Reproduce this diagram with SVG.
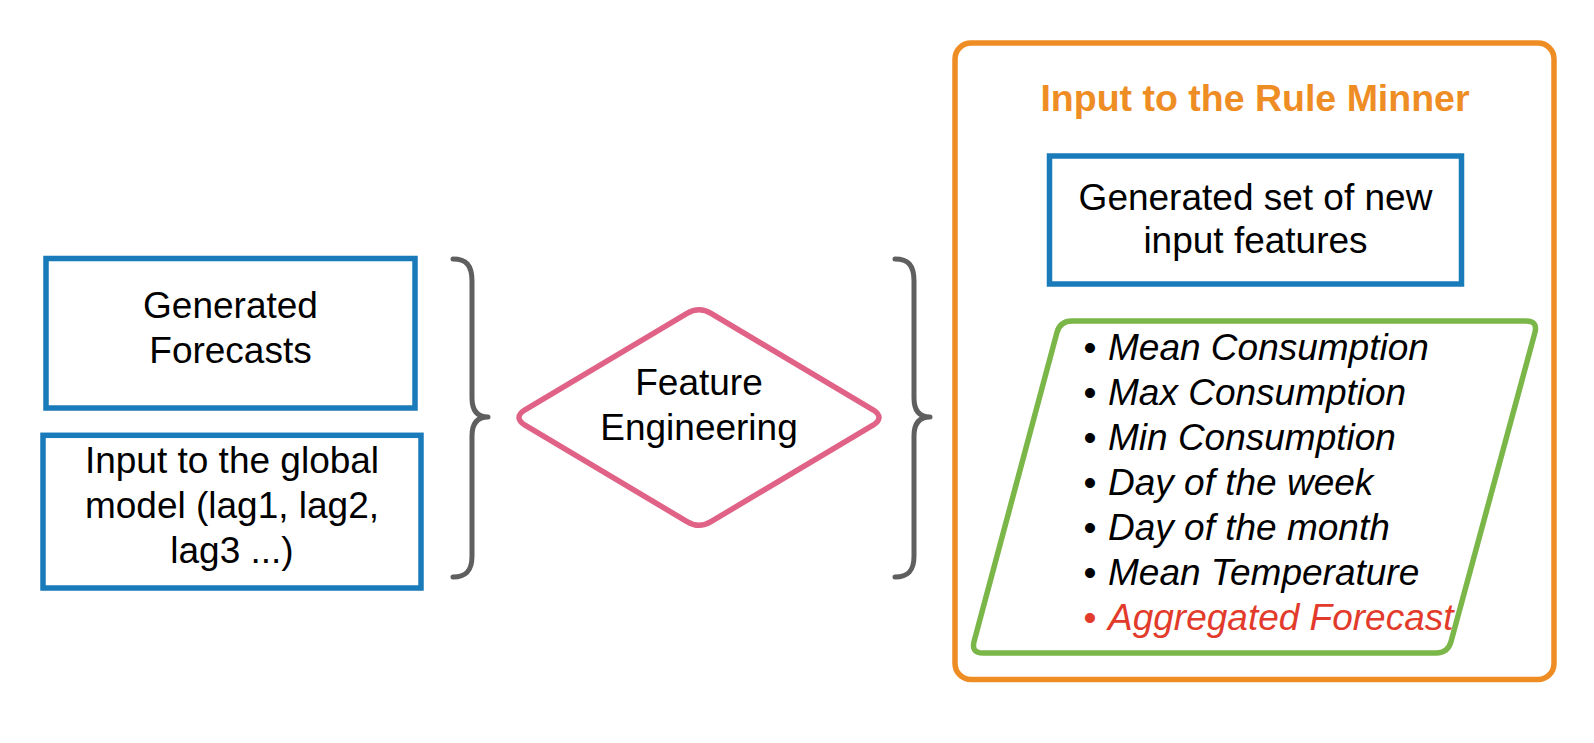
<svg xmlns="http://www.w3.org/2000/svg" width="1594" height="743" viewBox="0 0 1594 743">
<style>
  .box { fill: #ffffff; stroke: #1a7bbb; stroke-width: 5.5; }
  .txt { font-family: "Liberation Sans", Arial, sans-serif; font-size: 37px; fill: #000000; text-anchor: middle; }
  .item { font-family: "Liberation Sans", Arial, sans-serif; font-size: 37px; font-style: italic; fill: #000000; }
  .bullet { font-family: "Liberation Sans", Arial, sans-serif; font-size: 37px; fill: #000000; text-anchor: middle; }
  .red { fill: #e23b2b; }
  .brace { fill: none; stroke: #5f5f5f; stroke-width: 5; stroke-linecap: round; stroke-linejoin: round; }
</style>
<rect width="1594" height="743" fill="#ffffff"/>

<g id="rule-minner-container">
  <rect x="955" y="43" width="599" height="636.5" rx="16" ry="16" fill="#ffffff" stroke="#ef8d25" stroke-width="5.5"/>
  <text x="1255" y="111" font-family="Liberation Sans, Arial, sans-serif" font-size="37.5" font-weight="bold" fill="#ef8d25" text-anchor="middle">Input to the Rule Minner</text>
</g>

<g id="generated-forecasts">
  <rect class="box" x="46" y="258.5" width="369" height="149.5"/>
  <text class="txt" x="230.5" y="318.3">Generated</text>
  <text class="txt" x="230.5" y="363.3">Forecasts</text>
</g>

<g id="global-model-input">
  <rect class="box" x="43" y="435.3" width="378" height="152.7"/>
  <text class="txt" x="232" y="473.3">Input to the global</text>
  <text class="txt" x="232" y="518.3">model (lag1, lag2,</text>
  <text class="txt" x="232" y="563.3">lag3 ...)</text>
</g>

<g id="feature-engineering">
  <path d="M525,409.8 L687,313.4 Q699,306 711,313.4 L873,409.8 Q885,417.5 873,425.2 L711,521.6 Q699,529 687,521.6 L525,425.2 Q513,417.5 525,409.8 Z" fill="#ffffff" stroke="#e06286" stroke-width="5.5" stroke-linejoin="round"/>
  <text class="txt" x="699" y="395">Feature</text>
  <text class="txt" x="699" y="440">Engineering</text>
</g>

<g id="new-input-features">
  <rect class="box" x="1049.5" y="156" width="412" height="128"/>
  <text class="txt" x="1255.5" y="210">Generated set of new</text>
  <text class="txt" x="1255.5" y="253.3">input features</text>
</g>

<g id="feature-list">
  <path d="M1072,321 L1526,321 Q1538,321 1534.9,332.6 L1451.1,641.4 Q1448,653 1436,653 L983,653 Q971,653 974.1,641.4 L1056.9,332.6 Q1060,321 1072,321 Z" fill="#ffffff" stroke="#7ab648" stroke-width="5.5" stroke-linejoin="round"/>
  <text class="bullet" x="1090" y="360">•</text><text class="item" x="1108" y="360">Mean Consumption</text>
  <text class="bullet" x="1090" y="405">•</text><text class="item" x="1108" y="405">Max Consumption</text>
  <text class="bullet" x="1090" y="450">•</text><text class="item" x="1108" y="450">Min Consumption</text>
  <text class="bullet" x="1090" y="495">•</text><text class="item" x="1108" y="495">Day of the week</text>
  <text class="bullet" x="1090" y="540">•</text><text class="item" x="1108" y="540">Day of the month</text>
  <text class="bullet" x="1090" y="585">•</text><text class="item" x="1108" y="585">Mean Temperature</text>
  <text class="bullet red" x="1090" y="630">•</text><text class="item red" x="1108" y="630">Aggregated Forecast</text>
</g>

<g id="connectors">
  <path class="brace" d="M453,259 C466,259 472,265 472,281 L472,398 C472,410 477,417 488,417 C477,417 472,424 472,436 L472,556 C472,571 466,577 453,577"/>
  <path class="brace" d="M895,259 C908,259 914,265 914,281 L914,398 C914,410 919,417 930,417 C919,417 914,424 914,436 L914,556 C914,571 908,577 895,577"/>
</g>
</svg>
